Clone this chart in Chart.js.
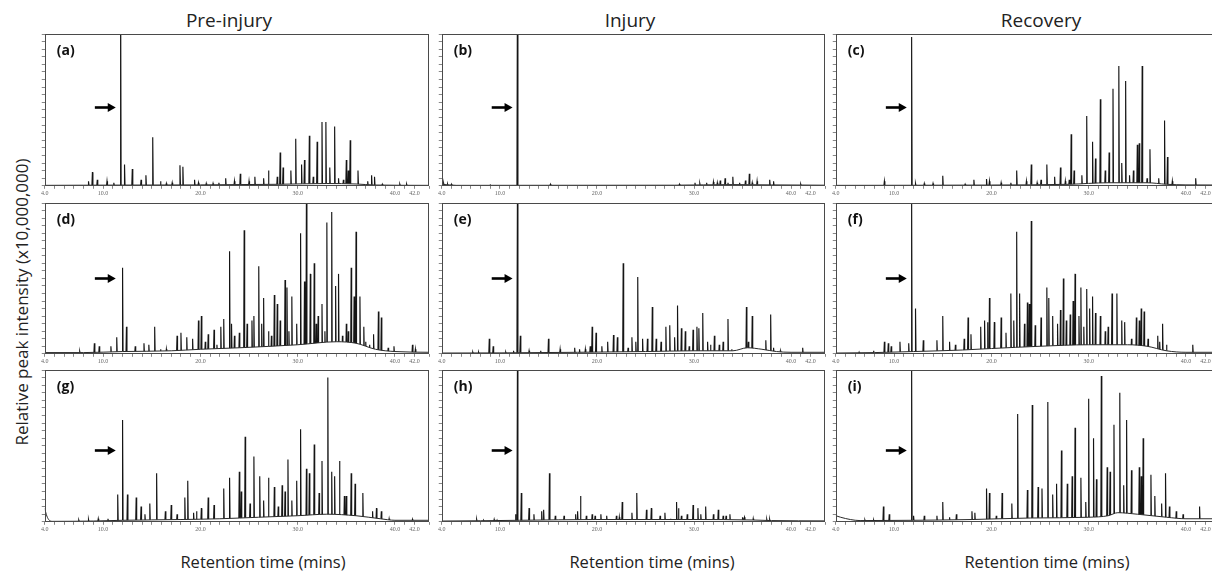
<!DOCTYPE html>
<html><head><meta charset="utf-8">
<script src="https://cdn.jsdelivr.net/npm/chart.js@4.4.1/dist/chart.umd.min.js"></script>
<style>
html,body{margin:0;padding:0;background:#fff;overflow:hidden;width:1212px;height:571px;}
#root{position:relative;width:1212px;height:571px;overflow:hidden;font-family:'Open Sans',sans-serif;color:#222;}
.t{position:absolute;white-space:nowrap;line-height:1;transform:translateX(-50%);}
canvas{position:absolute;}
</style></head><body><div id="root"></div>
<script>
// ---------------- data ----------------
const COLUMN_TITLES = ['Pre-injury', 'Injury', 'Recovery'];
const X_TITLE = 'Retention time (mins)';
const Y_TITLE = 'Relative peak intensity (x10,000,000)';
const PANEL_LABELS = ['(a)','(b)','(c)','(d)','(e)','(f)','(g)','(h)','(i)'];
const X_TICK_LABELS = [4, 10, 20, 30, 40, 42];

// peaks: [retention time (min), relative height (% of panel)]
const PEAKS_A = [[8.5,3],[8.9,9],[9.4,4],[10.4,3],[11.1,2],[11.8,130],[12.2,14],[13.0,11],[13.9,4],[14.4,7],[15.1,32],[15.9,3],[16.5,1.5],[17.1,2],[17.9,13.5],[18.2,12.5],[19.4,4],[19.8,2],[20.6,1.5],[21.3,1.5],[21.9,2],[22.6,5],[23.5,3],[24.1,8],[25.0,3],[25.6,6],[26.5,5],[27.0,10],[27.9,6],[28.2,22],[28.5,12],[29.3,10],[29.8,31],[30.4,14],[30.7,17],[31.2,33],[31.6,6],[32.0,29],[32.5,42],[32.9,42],[33.3,12],[33.8,39],[34.2,5],[34.7,4],[35.0,17],[35.2,10],[35.4,30],[36.2,10],[37.2,3],[37.6,7],[37.9,6],[38.7,1],[40.5,1],[41.2,1]];
const BASE_A = [[4,0.3],[8,0.4],[20,0.6],[28,1],[33,1.5],[36,1.2],[38,0.5],[43.5,0.3]];

const PEAKS_B = [[4.2,1.5],[4.6,1],[5.0,1],[9.0,0.5],[11.8,130],[15.2,1],[28.5,1],[30.1,2],[30.6,1.5],[31.3,2],[32.0,2.5],[32.4,2],[32.7,3.5],[33.2,5],[33.5,2],[34.0,6],[34.7,2],[35.3,3.5],[35.7,8],[36.0,2],[36.5,3],[37.8,4],[38.2,3],[41.0,1]];
const BASE_B = [[4,1],[5.5,0.3],[28,0.4],[34,0.8],[38,0.6],[43.5,0.4]];

const PEAKS_C = [[9.0,3],[11.8,98],[12.2,1.5],[13.1,1.5],[14.0,1.5],[15.0,6.6],[17.3,1],[18.2,4],[19.5,4.5],[19.8,3],[21.0,2],[22.0,2],[22.6,10],[23.6,3],[24.1,14],[24.7,2],[25.1,4],[25.7,14],[26.5,6],[27.1,12],[27.6,3],[28.0,4],[28.2,34],[28.5,10],[29.3,7],[29.8,46],[30.4,29],[30.7,18],[31.2,57],[31.7,10],[32.1,22],[32.5,64],[33.1,79],[33.4,15],[33.8,69],[34.2,7],[34.6,10],[35.0,27],[35.2,28],[35.5,79],[36.0,5],[36.3,24],[37.2,5],[37.8,43],[38.1,19],[38.6,3],[41.0,5]];
const BASE_C = [[4,0.3],[20,0.5],[28,1],[32,2],[36,2],[38,1],[40,0.6],[43.5,0.5]];

const PEAKS_D = [[7.6,1.5],[9.1,7],[9.6,5],[10.8,5],[11.4,11],[12.0,57],[12.4,18],[13.3,5],[14.2,7],[14.7,6],[15.3,18],[15.9,3],[16.5,3],[17.6,12],[18.0,14],[18.6,11],[19.2,10],[19.8,22],[20.1,25],[20.5,8],[20.8,13],[21.4,16],[21.7,6],[22.1,18],[22.4,23],[23.0,68],[23.2,20],[23.5,12],[24.0,14],[24.5,82],[24.8,20],[25.3,22],[25.5,25],[26.0,58],[26.3,20],[26.5,37],[27.0,15],[27.3,12],[27.6,39],[27.9,33],[28.2,22],[28.7,49],[28.9,44],[29.1,15],[29.4,38],[29.9,20],[30.3,80],[30.7,48],[30.9,105],[31.3,53],[31.7,60],[31.9,20],[32.1,25],[32.5,33],[32.8,15],[33.0,87],[33.5,94],[33.9,45],[34.2,53],[34.6,12],[35.0,20],[35.2,15],[35.5,57],[35.8,38],[36.0,81],[36.4,38],[36.8,18],[37.0,8],[37.4,6],[37.8,13],[38.3,28],[38.6,24],[39.3,4],[39.9,5],[41.8,6],[42.1,3]];
const BASE_D = [[4,0.8],[8,0.8],[12,1.5],[17,2],[20,3],[24,4],[30,6],[34,8],[36,7],[38,3],[40,1.5],[43.5,1]];

const PEAKS_E = [[7.2,1],[7.8,1],[8.9,10],[9.3,5],[10.6,1],[11.4,2],[11.8,105],[12.1,12],[13.0,2],[14.2,2],[15.0,10],[16.2,3],[17.7,4],[18.2,3],[18.8,3],[19.3,5],[19.5,18],[19.9,14],[20.5,5],[21.1,8],[21.7,12.5],[22.1,11],[22.7,60],[23.2,4],[23.6,11],[24.0,8],[24.2,51],[24.7,10],[25.2,10],[25.7,31],[26.1,10],[26.6,8],[27.1,18],[27.5,19],[28.0,11],[28.3,32],[28.7,17],[29.1,15],[29.5,5],[29.9,16],[30.3,18],[30.5,17],[30.9,27],[31.4,8],[31.7,6],[32.1,12],[32.6,6],[33.0,8],[33.5,23],[33.9,3],[35.4,31],[35.6,8],[36.0,25],[37.4,9],[37.9,26],[38.2,4],[38.9,2],[41.2,4]];
const BASE_E = [[4,0.5],[10,0.6],[18,1],[25,1.5],[30,2],[34,2],[35.5,4],[37,3],[38.5,1.5],[40,1],[43.5,1]];

const PEAKS_F = [[6.4,1],[7.9,2],[9.0,8],[9.4,7],[9.7,5],[10.6,8],[11.5,7],[11.8,105],[12.2,30],[13.0,9],[14.4,9],[15.0,25],[15.7,8],[16.3,6],[17.2,10],[17.6,24],[17.9,13],[18.9,18],[19.3,22],[19.6,21],[19.8,37],[20.3,21],[21.0,24],[21.5,14],[22.0,40],[22.3,22],[22.6,81],[22.9,40],[23.4,20],[23.7,34],[23.9,33],[24.1,88],[24.5,19],[25.1,24],[25.7,44],[25.9,37],[26.3,25],[26.8,20],[27.1,29],[27.4,50],[27.7,22],[28.1,26],[28.4,35],[28.6,53],[29.0,25],[29.2,44],[29.5,18],[29.8,43],[30.1,30],[30.4,38],[30.7,27],[31.2,25],[31.7,15],[32.0,18],[32.4,40],[32.9,40],[33.4,22],[33.7,21],[34.4,10],[34.9,24],[35.2,22],[35.4,30],[35.7,28],[36.1,10],[37.1,12],[37.3,8],[37.6,20],[38.0,6],[40.7,6]];
const BASE_F = [[4,0.5],[8,0.8],[12,1.5],[17,2.5],[20,3.5],[25,5],[30,6],[34,6],[36,5],[38,2],[40,1],[43.5,1]];

const PEAKS_G = [[7.5,1],[8.5,1.5],[9.5,2],[10.5,2],[11.5,18],[12.0,67],[12.5,18],[13.4,16],[13.9,10],[14.3,5],[14.8,12],[15.5,32],[16.4,7],[17.0,11],[17.6,5],[18.4,16],[18.7,27],[19.3,6],[19.6,7],[20.1,9],[20.8,16],[21.4,11],[22.4,22],[23.0,29],[24.0,33],[24.2,20],[24.6,56],[25.1,12],[25.5,43],[26.1,30],[26.5,14],[27.0,29],[27.6,23],[28.0,10],[28.4,24],[28.7,20],[29.0,41],[29.4,14],[29.9,27],[30.3,61],[30.9,35],[31.2,32],[31.7,51],[32.2,19],[32.5,40],[33.1,95],[33.5,33],[33.8,30],[34.3,40],[34.8,17],[35.0,17],[35.5,32],[35.9,25],[36.7,19],[37.7,7],[38.1,9],[38.6,7],[39.4,2],[41.8,1.5]];
const BASE_G = [[4,9],[4.15,5],[4.4,1.5],[4.8,0.3],[9,0.5],[12,1],[18,1.5],[22,2],[26,3],[30,4],[33,5],[36,4],[38.5,2],[40,1],[43.5,1]];

const PEAKS_H = [[7.6,1.5],[8.3,1],[9.4,1.5],[9.7,1],[11.6,5],[11.8,100],[12.2,19],[13.0,9],[13.5,5],[14.3,7],[14.5,8],[15.1,32],[15.7,4],[16.6,4],[17.8,5],[18.0,7],[18.3,17],[18.9,4],[19.5,5],[19.8,4],[20.4,5],[21.0,4],[22.0,4],[22.3,3],[22.6,13],[23.6,6],[24.1,19],[25.1,8],[25.6,9],[26.5,4],[27.0,6],[27.6,2],[28.2,13],[28.4,9],[28.7,4],[29.3,5],[29.9,11],[30.4,9],[30.7,5],[31.2,10],[32.0,5],[32.5,8],[33.0,4],[33.3,4],[33.7,5],[35.0,3],[35.2,3],[36.1,2],[37.5,1.5],[37.8,1.5]];
const BASE_H = [[4,0.5],[8,0.7],[12,1],[20,1.5],[30,1.5],[36,1.2],[38,0.8],[43.5,0.6]];

const PEAKS_I = [[7.0,1],[7.9,1],[8.9,10],[9.5,5],[11.8,105],[12.0,4],[13.1,4],[14.4,4],[15.0,13],[15.7,3],[16.4,5],[18.0,7],[18.3,6],[19.5,22],[19.8,19],[20.5,4],[21.1,19],[22.1,12],[22.7,71],[23.7,21],[24.2,77],[24.8,23],[25.2,22],[25.8,79],[26.3,18],[26.7,25],[27.2,47],[27.8,25],[28.3,30],[28.6,62],[29.2,29],[29.7,13],[30.0,81],[30.5,55],[30.8,28],[31.3,96],[31.9,36],[32.2,33],[32.6,64],[33.2,85],[33.6,24],[33.9,67],[34.4,34],[35.2,36],[35.4,30],[35.6,55],[36.4,31],[36.8,17],[37.5,12],[37.9,32],[38.3,10],[39.0,7],[39.7,5],[41.4,10]];
const BASE_I = [[4,4],[4.5,3],[5.5,1.5],[6.5,0.8],[12,1],[18,1.5],[24,2.5],[30,3],[32,4],[33,6],[35,5],[38,3],[40,2],[43.5,2]];

const PEAKS = [PEAKS_A,PEAKS_B,PEAKS_C,PEAKS_D,PEAKS_E,PEAKS_F,PEAKS_G,PEAKS_H,PEAKS_I];
const BASES = [BASE_A,BASE_B,BASE_C,BASE_D,BASE_E,BASE_F,BASE_G,BASE_H,BASE_I];

// ---------------- layout ----------------
const COL_LEFT = [45, 442, 836], COL_W = [384, 383, 384];
const ROW_TOP = [34, 203, 370], ROW_H = [152, 151, 152];
const ARROW_Y = [52, 50, 47];         // arrow level (% of panel) per row
const ARROW_X = [9.15, 11.3];         // arrow tail / tip (min)
const X_MIN = 4, X_MAX = 43.5, SPIKE_W = 0.05;

const root = document.getElementById('root');
function addText(txt, left, top, size, extra) {
  const d = document.createElement('div');
  d.className = 't'; d.textContent = txt;
  d.style.left = left + 'px'; d.style.top = top + 'px'; d.style.fontSize = size + 'px';
  if (extra) Object.assign(d.style, extra);
  root.appendChild(d);
}
[229, 630, 1041].forEach((x, i) => addText(COLUMN_TITLES[i], x, 11, 19));
[263, 652, 1047].forEach(x => addText(X_TITLE, x, 554, 16.5));
addText(Y_TITLE, 21, 302, 17, {transform: 'translate(-50%,-50%) rotate(-90deg)'});

const panelPlugin = {
  id: 'panel',
  afterDatasetsDraw(chart, args, opts) {
    const {ctx, chartArea: a, scales: {x, y}} = chart;
    ctx.save();
    ctx.strokeStyle = '#4a4a4a'; ctx.lineWidth = 1;
    ctx.strokeRect(Math.round(a.left) + 0.5, Math.round(a.top) + 0.5,
                   Math.round(a.right - a.left) - 1, Math.round(a.bottom - a.top) - 1);
    ctx.fillStyle = '#111';
    ctx.font = 'bold 14px "Open Sans"';
    ctx.textBaseline = 'top';
    ctx.fillText(opts.label, a.left + 12, a.top + 10);
    const x1 = x.getPixelForValue(ARROW_X[0]), x2 = x.getPixelForValue(ARROW_X[1]);
    const yy = Math.round(y.getPixelForValue(opts.arrowY)) + 0.5;
    ctx.strokeStyle = '#000'; ctx.lineWidth = 2.6;
    ctx.beginPath(); ctx.moveTo(x1, yy); ctx.lineTo(x2 - 6, yy); ctx.stroke();
    ctx.fillStyle = '#000';
    ctx.beginPath(); ctx.moveTo(x2, yy); ctx.lineTo(x2 - 8, yy - 4.5); ctx.lineTo(x2 - 8, yy + 4.5); ctx.closePath(); ctx.fill();
    ctx.restore();
  }
};

function config(i) {
  const spikes = [];
  PEAKS[i].forEach(([t, h]) => { spikes.push({x: t - SPIKE_W, y: 0}, {x: t, y: h}, {x: t + SPIKE_W, y: 0}); });
  spikes.sort((p, q) => p.x - q.x);
  const base = BASES[i].map(([x, y]) => ({x, y}));
  return {
    type: 'line',
    data: {datasets: [
      // baseline (drift) drawn on top; white fill below hides the spike feet
      {data: base, borderColor: '#2a2a2a', borderWidth: 1, pointRadius: 0,
       cubicInterpolationMode: 'monotone', fill: 'origin', backgroundColor: '#ffffff'},
      {data: spikes, borderColor: '#151515', borderWidth: 1.15, pointRadius: 0, tension: 0, fill: false}
    ]},
    options: {
      responsive: false, maintainAspectRatio: false, animation: false, devicePixelRatio: 1,
      layout: {padding: {top: 2, right: 2, left: 0, bottom: 0}},
      plugins: {legend: {display: false}, tooltip: {enabled: false}, filler: {propagate: false},
                panel: {label: PANEL_LABELS[i], arrowY: ARROW_Y[Math.floor(i / 3)]}},
      scales: {
        x: {type: 'linear', min: X_MIN, max: X_MAX, border: {display: false},
            grid: {display: true, drawOnChartArea: false, drawTicks: true, tickLength: 3, color: '#888'},
            ticks: {stepSize: 1, autoSkip: false, maxRotation: 0, minRotation: 0, padding: 1,
                    font: {family: 'Liberation Serif', size: 6}, color: '#666',
                    callback: v => X_TICK_LABELS.includes(v) ? v.toFixed(1) : ''}},
        y: {min: 0, max: 100, border: {display: false},
            grid: {display: true, drawOnChartArea: false, drawTicks: true, tickLength: 3, color: '#888'},
            ticks: {stepSize: 5, display: false},
            afterFit: s => { s.width = 4; }}
      }
    },
    plugins: [panelPlugin]
  };
}

for (let i = 0; i < 9; i++) {
  const c = i % 3, r = Math.floor(i / 3);
  const L = COL_LEFT[c], T = ROW_TOP[r], W = COL_W[c], H = ROW_H[r];
  let cv = document.createElement('canvas');
  cv.width = W + 20; cv.height = H + 20;
  root.appendChild(cv);
  let ch = new Chart(cv, config(i));
  const a = ch.chartArea;
  const dl = a.left, dt = a.top, dr = ch.width - a.right, db = ch.height - a.bottom;
  ch.destroy(); cv.remove();
  cv = document.createElement('canvas');
  cv.width = Math.round(W + dl + dr); cv.height = Math.round(H + dt + db);
  cv.style.left = Math.round(L - dl) + 'px'; cv.style.top = Math.round(T - dt) + 'px';
  root.appendChild(cv);
  new Chart(cv, config(i));
}
</script></body></html>
